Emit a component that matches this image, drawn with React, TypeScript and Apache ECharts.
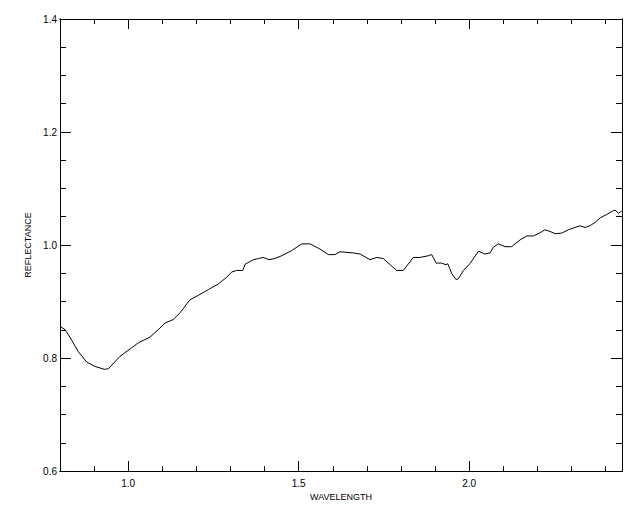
import React, { useEffect, useRef } from "react";
import * as echarts from "echarts";

const wavelength = [
  0.8, 0.815, 0.829, 0.854, 0.878, 0.903, 0.93, 0.942, 0.976, 1.01, 1.03, 1.064, 1.088, 1.108,
  1.132, 1.152, 1.181, 1.206, 1.235, 1.264, 1.289, 1.303, 1.318, 1.336, 1.343, 1.367, 1.382,
  1.396, 1.413, 1.43, 1.45, 1.479, 1.509, 1.533, 1.562, 1.587, 1.606, 1.621, 1.66, 1.68, 1.709,
  1.729, 1.748, 1.787, 1.807, 1.836, 1.856, 1.88, 1.89, 1.903, 1.919, 1.932, 1.937, 1.949,
  1.961, 1.968, 1.983, 2.002, 2.027, 2.046, 2.061, 2.071, 2.085, 2.105, 2.124, 2.149, 2.169,
  2.188, 2.206, 2.222, 2.237, 2.252, 2.271, 2.291, 2.31, 2.325, 2.34, 2.354, 2.369, 2.384,
  2.403, 2.423, 2.43, 2.437, 2.447,
];
const reflectance = [
  0.856, 0.85, 0.837, 0.811, 0.793, 0.785, 0.78, 0.781, 0.803, 0.818, 0.827, 0.837, 0.85, 0.862,
  0.868, 0.88, 0.903, 0.911, 0.921, 0.931, 0.943, 0.952, 0.955, 0.955, 0.966, 0.974, 0.976,
  0.978, 0.974, 0.976, 0.981, 0.99, 1.002, 1.002, 0.993, 0.983, 0.983, 0.988, 0.986, 0.984, 0.974,
  0.978, 0.976, 0.955, 0.955, 0.978, 0.978, 0.981, 0.983, 0.968, 0.968, 0.965, 0.967, 0.949,
  0.939, 0.94, 0.955, 0.967, 0.989, 0.984, 0.986, 0.996, 1.002, 0.997, 0.997, 1.009, 1.016,
  1.016, 1.021, 1.027, 1.024, 1.02, 1.021, 1.027, 1.031, 1.034, 1.031, 1.034, 1.04, 1.048,
  1.054, 1.061, 1.061, 1.056, 1.06,
];

const xMajor = [1.0, 1.5, 2.0];
const xMinor = [0.9, 1.1, 1.2, 1.3, 1.4, 1.6, 1.7, 1.8, 1.9, 2.1, 2.2, 2.3, 2.4];
const yMajor = [0.6, 0.8, 1.0, 1.2, 1.4];
const yMinor = [0.65, 0.7, 0.75, 0.85, 0.9, 0.95, 1.05, 1.1, 1.15, 1.25, 1.3, 1.35];

const X_MIN = 0.8;
const X_MAX = 2.448;
const Y_MIN = 0.6;
const Y_MAX = 1.4;

const FONT = "Liberation Sans";

export default function App() {
  const ref = useRef<HTMLDivElement>(null);

  useEffect(() => {
    if (!ref.current) return;
    const chart = echarts.init(ref.current, undefined, { renderer: "svg" });
    const lineStyle = { color: "#000", width: 1 };

    const xAxisBase = (position: string, ticks: number[], len: number, labels: boolean, extra: any = {}) => ({
      type: "value",
      min: X_MIN,
      max: X_MAX,
      position,
      axisLine: { show: true, onZero: false, lineStyle },
      axisTick: { show: true, inside: true, length: len, customValues: ticks, lineStyle },
      axisLabel: labels
        ? {
            show: true,
            customValues: ticks,
            margin: 7,
            color: "#000",
            fontFamily: FONT,
            fontSize: 10,
            formatter: (v: number) => v.toFixed(1),
          }
        : { show: false },
      splitLine: { show: false },
      ...extra,
    });

    const yAxisBase = (position: string, ticks: number[], len: number, labels: boolean, extra: any = {}) => ({
      type: "value",
      min: Y_MIN,
      max: Y_MAX,
      position,
      axisLine: { show: true, onZero: false, lineStyle },
      axisTick: { show: true, inside: true, length: len, customValues: ticks, lineStyle },
      axisLabel: labels
        ? {
            show: true,
            customValues: ticks,
            margin: 3,
            color: "#000",
            fontFamily: FONT,
            fontSize: 10,
            formatter: (v: number) => v.toFixed(1),
          }
        : { show: false },
      splitLine: { show: false },
      ...extra,
    });

    const data = wavelength.map((w, i) => [w, reflectance[i]]);

    chart.setOption({
      animation: false,
      backgroundColor: "#fff",
      grid: { left: 60, right: 18, top: 19, bottom: 41 },
      xAxis: [
        xAxisBase("bottom", xMajor, 10, true, {
          name: "WAVELENGTH",
          nameLocation: "middle",
          nameGap: 20,
          nameTextStyle: { color: "#000", fontFamily: FONT, fontSize: 9 },
        }),
        xAxisBase("bottom", xMinor, 5, false),
        xAxisBase("top", xMajor, 10, false),
        xAxisBase("top", xMinor, 5, false),
      ],
      yAxis: [
        yAxisBase("left", yMajor, 11, true, {
          name: "REFLECTANCE",
          nameLocation: "middle",
          nameGap: 27,
          nameTextStyle: { color: "#000", fontFamily: FONT, fontSize: 9 },
        }),
        yAxisBase("left", yMinor, 6, false),
        yAxisBase("right", yMajor, 11, false),
        yAxisBase("right", yMinor, 6, false),
      ],
      series: [
        {
          type: "line",
          data,
          xAxisIndex: 0,
          yAxisIndex: 0,
          showSymbol: false,
          symbol: "none",
          lineStyle: { color: "#000", width: 1 },
          silent: true,
        },
      ],
    });
    return () => chart.dispose();
  }, []);

  return (
    <div
      ref={ref}
      style={{ position: "fixed", left: 0, top: 0, width: 640, height: 512, background: "#fff" }}
    />
  );
}
